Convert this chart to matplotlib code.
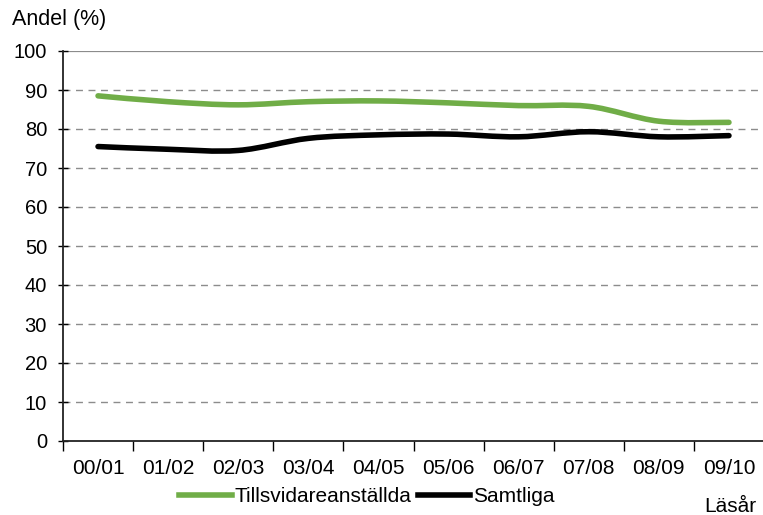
import matplotlib.pyplot as plt
from matplotlib.path import Path
from matplotlib.patches import PathPatch
from matplotlib.lines import Line2D

plt.rcParams['font.family'] = ['Liberation Sans', 'DejaVu Sans']

years = ["00/01", "01/02", "02/03", "03/04", "04/05",
         "05/06", "06/07", "07/08", "08/09", "09/10"]
tillsvidare = [88.5, 87.0, 86.2, 87.0, 87.2, 86.7, 86.0, 85.8, 82.0, 81.7]
samtliga = [75.5, 74.8, 74.5, 77.6, 78.5, 78.7, 78.0, 79.3, 78.0, 78.3]

green = "#70AD47"


def smooth_path(xs, ys, tension=1 / 6):
    # Excel style smoothed line: Catmull-Rom segments as cubic Bezier curves
    verts = [(xs[0], ys[0])]
    codes = [Path.MOVETO]
    n = len(xs)
    for i in range(n - 1):
        x0, y0 = (xs[i - 1], ys[i - 1]) if i > 0 else (xs[i], ys[i])
        x1, y1 = xs[i], ys[i]
        x2, y2 = xs[i + 1], ys[i + 1]
        x3, y3 = (xs[i + 2], ys[i + 2]) if i + 2 < n else (x2, y2)
        c1 = (x1 + (x2 - x0) * tension, y1 + (y2 - y0) * tension)
        c2 = (x2 - (x3 - x1) * tension, y2 - (y3 - y1) * tension)
        verts += [c1, c2, (x2, y2)]
        codes += [Path.CURVE4] * 3
    return Path(verts, codes)


fig = plt.figure(figsize=(7.63, 5.15), dpi=100)
ax = fig.add_axes([63 / 763, 1 - 441 / 515, 701 / 763, 390 / 515])

x = list(range(len(years)))
for vals, col in [(tillsvidare, green), (samtliga, "black")]:
    ax.add_patch(PathPatch(smooth_path(x, vals), fill=False, edgecolor=col,
                           lw=4.0, capstyle="round", zorder=3))

ax.set_xlim(-0.5, len(years) - 0.5)
ax.set_ylim(0, 100)
ax.set_yticks(range(0, 101, 10))
for v in range(10, 100, 10):
    ax.axhline(v, color="#8c8c8c", lw=1.0, ls=(0, (5, 4)), zorder=1)
ax.axhline(100, color="#8c8c8c", lw=1.6, zorder=1)

ax.set_xticks(x)
ax.set_xticklabels(years)
ax.set_xticks([i - 0.5 for i in range(len(years) + 1)], minor=True)
ax.tick_params(axis="x", which="major", length=0, pad=13, labelsize=15)
ax.tick_params(axis="x", which="minor", length=7, width=1, direction="out")
ax.tick_params(axis="y", length=7, width=1, direction="inout", pad=8,
               labelsize=14.5)

for s in ["top", "right"]:
    ax.spines[s].set_visible(False)
for s in ["left", "bottom"]:
    ax.spines[s].set_linewidth(1.3)
    ax.spines[s].set_color("#222222")

fig.text(12 / 763, 1 - 20 / 515, "Andel (%)", fontsize=15.5, va="center", ha="left")
fig.text(756 / 763, 1 - 507 / 515, "Läsår", fontsize=15, va="center", ha="right")

handles = [Line2D([], [], color=green, lw=4.0),
           Line2D([], [], color="black", lw=4.0)]
fig.legend(handles, ["Tillsvidareanställda", "Samtliga"], loc="center",
           bbox_to_anchor=(367 / 763, 1 - 497 / 515), ncol=2, frameon=False,
           fontsize=15, handlelength=2.5, handletextpad=0.15, columnspacing=0.3,
           borderpad=0)

fig.savefig("out.png", dpi=100)
